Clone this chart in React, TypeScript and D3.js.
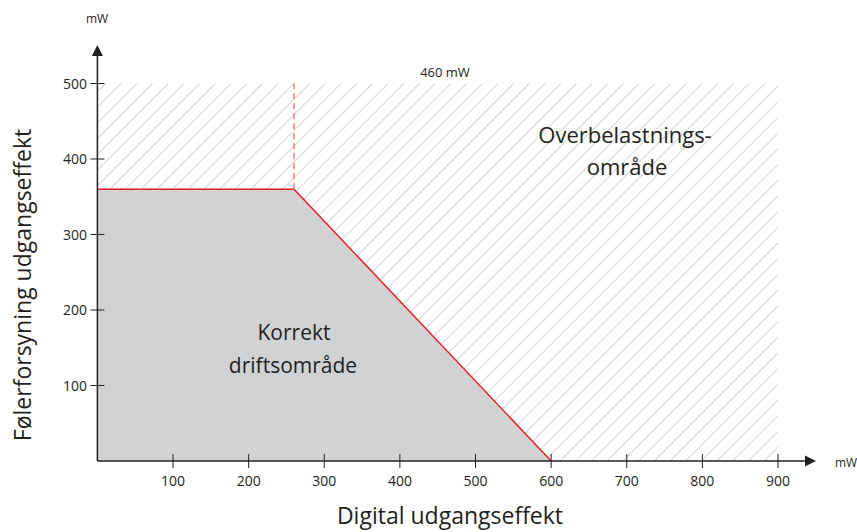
import React from "react";
import * as d3 from "d3";

const xTicks = [100, 200, 300, 400, 500, 600, 700, 800, 900];
const yTicks = [100, 200, 300, 400, 500];
// Boundary of the correct operating area (digital mW, sensor mW)
const boundary: [number, number][] = [
  [0, 360],
  [260, 360],
  [600, 0],
];
const kneeX = 260;
const xMax = 900;
const yMax = 500;
const limitLabel = "460 mW";
const unit = "mW";
const xTitle = "Digital udgangseffekt";
const yTitle = "Følerforsyning udgangseffekt";
const okLabel = ["Korrekt", "driftsområde"];
const overLabel = ["Overbelastnings-", "område"];

const W = 857;
const H = 532;
const FONT = "'Open Sans', 'DejaVu Sans', sans-serif";
const INK = "#231f20";
const RED = "#e3202a";

export default function App() {
  const x = d3.scaleLinear().domain([0, 900]).range([97.4, 778]);
  const y = d3.scaleLinear().domain([0, 500]).range([461, 83.5]);
  const x0 = x(0);
  const y0 = y(0);

  const area = d3
    .area<[number, number]>()
    .x((d) => x(d[0]))
    .y0(y0)
    .y1((d) => y(d[1]));
  const line = d3
    .line<[number, number]>()
    .x((d) => x(d[0]))
    .y((d) => y(d[1]));

  return (
    <svg
      width={W}
      height={H}
      style={{ position: "absolute", left: 0, top: 0, display: "block" }}
      fontFamily={FONT}
    >
      <defs>
        <pattern
          id="hatch"
          patternUnits="userSpaceOnUse"
          width={11.1}
          height={11.1}
          patternTransform="rotate(45)"
        >
          <line x1={0} y1={0} x2={0} y2={11.1} stroke="#aaaaaa" strokeWidth={1} />
        </pattern>
      </defs>
      <rect x={0} y={0} width={W} height={H} fill="#fff" />
      {/* hatched overload region */}
      <rect
        x={x0}
        y={y(yMax)}
        width={x(xMax) - x0}
        height={y0 - y(yMax)}
        fill="url(#hatch)"
      />
      {/* correct operating area */}
      <path d={area(boundary) || ""} fill="#d1d2d4" />
      <path d={line(boundary) || ""} fill="none" stroke={RED} strokeWidth={1.5} />
      <line
        x1={x(kneeX)}
        x2={x(kneeX)}
        y1={y(360)}
        y2={y(yMax)}
        stroke="#f07a80"
        strokeWidth={1.5}
        strokeDasharray="6,4"
      />
      {/* axes */}
      <line x1={x0} x2={806} y1={y0} y2={y0} stroke={INK} strokeWidth={1.5} />
      <path d={`M805,${y0 - 5.5} L816,${y0} L805,${y0 + 5.5} Z`} fill={INK} />
      <line x1={x0} x2={x0} y1={y0} y2={56} stroke={INK} strokeWidth={1.5} />
      <path d={`M${x0 - 5.5},56 L${x0},45 L${x0 + 5.5},56 Z`} fill={INK} />
      {xTicks.map((t) => (
        <g key={t}>
          <line x1={x(t)} x2={x(t)} y1={y0 - 7} y2={y0 + 7} stroke={INK} strokeWidth={1} />
          <text x={x(t)} y={486} textAnchor="middle" fontSize={14} fill={INK}>
            {t}
          </text>
        </g>
      ))}
      {yTicks.map((t) => (
        <g key={t}>
          <line x1={x0 - 7} x2={x0 + 7} y1={y(t)} y2={y(t)} stroke={INK} strokeWidth={1} />
          <text x={87} y={y(t) + 5} textAnchor="end" fontSize={14} fill={INK}>
            {t}
          </text>
        </g>
      ))}
      <text x={835} y={467} fontSize={12} fill={INK}>
        {unit}
      </text>
      <text x={97} y={23} textAnchor="middle" fontSize={12} fill={INK}>
        {unit}
      </text>
      <text x={445} y={77} textAnchor="middle" fontSize={13} fill={INK}>
        {limitLabel}
      </text>
      <text x={294} y={340} textAnchor="middle" fontSize={21} fill={INK}>
        {okLabel[0]}
      </text>
      <text x={293} y={373} textAnchor="middle" fontSize={21} fill={INK}>
        {okLabel[1]}
      </text>
      <text x={625} y={143} textAnchor="middle" fontSize={22} fill={INK}>
        {overLabel[0]}
      </text>
      <text x={627} y={175} textAnchor="middle" fontSize={22} fill={INK}>
        {overLabel[1]}
      </text>
      <text x={450} y={524} textAnchor="middle" fontSize={23} fill={INK}>
        {xTitle}
      </text>
      <text
        transform={`translate(31,${285}) rotate(-90)`}
        textAnchor="middle"
        fontSize={23}
        fill={INK}
      >
        {yTitle}
      </text>
    </svg>
  );
}
